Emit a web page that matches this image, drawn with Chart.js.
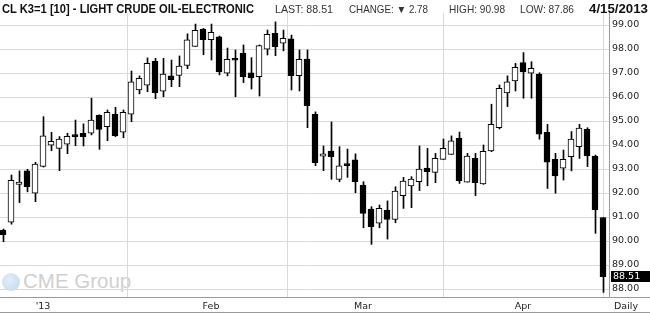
<!DOCTYPE html>
<html><head><meta charset="utf-8">
<script src="https://cdn.jsdelivr.net/npm/chart.js@4.4.1/dist/chart.umd.min.js"></script>
<style>
html,body{margin:0;padding:0;background:#fff;}
#wrap{position:relative;width:650px;height:314px;overflow:hidden;background:#fff;}
canvas{position:absolute;left:0;top:0;z-index:2;}
.h{position:absolute;white-space:nowrap;transform-origin:0 0;line-height:1;z-index:3;font-family:"Liberation Sans",Arial,sans-serif;}
.big{font-weight:bold;font-size:13.5px;color:#111;top:2px;}
.sm{font-size:10.5px;color:#333;top:4px;}
#wm{position:absolute;left:2px;top:271px;z-index:1;}
#globe{position:absolute;left:0;top:2px;width:18px;height:18px;border-radius:50%;background:radial-gradient(circle at 40% 40%,#e2eefa,#c0d6ee);}
#wmt{position:absolute;left:21px;top:0;font-family:"Liberation Sans",Arial,sans-serif;font-size:20.5px;line-height:1;color:#d0d0d0;white-space:nowrap;}
#daily{position:absolute;left:614px;top:301px;font-family:"DejaVu Sans",sans-serif;font-size:9.5px;line-height:1;color:#222;z-index:3;}
</style></head><body>
<div id="wrap">
<div id="wm"><div id="globe"></div><div id="wmt">CME Group</div></div>
<canvas id="c" width="650" height="314"></canvas>
<div class="h big" data-l="2" data-w="252">CL K3=1 [10] - LIGHT CRUDE OIL-ELECTRONIC</div>
<div class="h sm" data-l="275" data-w="58">LAST: 88.51</div>
<div class="h sm" data-l="349" data-w="79">CHANGE: ▼ 2.78</div>
<div class="h sm" data-l="449" data-w="56">HIGH: 90.98</div>
<div class="h sm" data-l="520" data-w="54">LOW: 87.86</div>
<div class="h big" data-l="589" data-w="59">4/15/2013</div>
<div id="daily">Daily</div>
</div>
<script>
const dates = ["12/24","12/26","12/27","12/28","12/31","1/2","1/3","1/4","1/7","1/8","1/9","1/10","1/11","1/14","1/15","1/16","1/17","1/18","1/22","1/23","1/24","1/25","1/28","1/29","1/30","1/31","2/1","2/4","2/5","2/6","2/7","2/8","2/11","2/12","2/13","2/14","2/15","2/19","2/20","2/21","2/22","2/25","2/26","2/27","2/28","3/1","3/4","3/5","3/6","3/7","3/8","3/11","3/12","3/13","3/14","3/15","3/18","3/19","3/20","3/21","3/22","3/25","3/26","3/27","3/28","4/1","4/2","4/3","4/4","4/5","4/8","4/9","4/10","4/11","4/12","4/15"];
const opens  = [90.46,90.78,92.36,92.92,91.99,93.11,93.99,93.86,94.03,94.42,94.49,94.49,95.24,94.76,95.28,94.53,95.28,96.29,96.49,97.49,96.24,96.88,96.90,97.32,98.11,98.83,98.39,98.51,96.99,97.57,97.83,97.01,96.85,97.99,98.65,98.24,98.42,96.89,97.58,95.28,93.53,93.75,92.57,93.21,93.38,92.33,91.33,90.74,91.29,90.90,91.89,92.30,92.47,93.04,92.86,93.40,93.61,94.29,92.45,93.44,92.38,93.75,94.72,96.17,96.67,97.43,96.99,96.96,94.53,93.40,93.03,93.51,93.93,94.65,93.54,90.98];
const highs  = [90.50,92.75,92.92,92.99,93.28,95.18,94.53,94.35,94.49,95.04,94.88,95.95,95.26,95.46,95.57,95.46,97.08,96.88,97.63,97.61,97.61,97.54,97.71,98.63,99.04,98.86,99.04,98.54,98.04,97.96,98.17,97.64,98.17,98.79,99.13,98.79,98.58,97.96,97.96,95.38,93.96,94.96,93.93,93.83,93.63,92.47,91.43,91.50,91.67,92.26,92.65,92.68,93.96,93.86,93.65,94.25,94.38,94.54,93.65,93.65,94.00,95.70,96.50,96.88,97.40,97.85,97.47,97.01,94.86,93.65,93.79,94.56,94.86,94.72,93.58,90.98];
const lows   = [89.97,90.70,91.60,92.05,91.64,93.08,93.76,92.93,93.64,93.97,93.96,94.42,93.82,94.18,94.35,94.30,94.97,96.13,96.22,95.93,96.01,96.43,96.43,97.18,98.11,97.76,97.54,96.92,96.88,96.01,96.60,96.33,96.04,97.75,97.72,97.92,96.29,96.25,94.72,93.14,92.93,92.57,92.47,92.65,92.01,90.55,89.86,90.55,90.08,90.76,91.36,91.39,92.10,92.30,92.43,93.40,93.61,92.40,92.45,91.89,92.36,93.72,94.67,95.60,96.25,95.95,95.95,94.24,92.19,91.99,92.54,92.92,93.44,93.10,90.32,87.86];
const closes = [90.26,92.53,92.45,92.26,93.20,94.38,94.15,94.25,94.36,94.35,94.35,95.04,94.65,95.36,94.39,95.36,96.63,96.78,97.40,96.18,96.96,96.72,97.29,98.38,98.78,98.39,98.69,97.05,97.57,97.53,96.85,96.80,98.14,98.61,98.10,98.44,96.89,97.57,95.64,93.26,93.63,93.51,93.13,93.14,92.47,91.15,90.60,91.36,90.90,92.08,92.50,92.58,93.00,92.89,93.44,93.86,94.17,92.51,93.54,92.43,93.74,94.86,96.36,96.63,97.24,97.05,97.19,94.45,93.28,92.71,93.40,94.25,94.70,93.54,91.29,88.51];
const monthTickIdx = [5,26,45,65];
const monthTickLabels = ["'13","Feb","Mar","Apr"];
const yTicks = [88,89,90,91,92,93,94,95,96,97,98,99];
const lastPrice = 88.51;

const XMIN = -0.375, XMAX = 75.75, YMIN = 87 + 2/3, YMAX = 99.5;

const bodyData = dates.map((d,i)=>({x:i, y:[opens[i], closes[i]]}));
const wickData = dates.map((d,i)=>({x:i, y:[lows[i], highs[i]]}));

const frame = {
  id:'frame',
  afterDraw(chart){
    const ctx = chart.ctx, ca = chart.chartArea, ys = chart.scales.y;
    ctx.save();
    ctx.strokeStyle = '#9a9a9a'; ctx.lineWidth = 1;
    ctx.beginPath();
    ctx.moveTo(0, Math.round(ca.bottom)+0.5); ctx.lineTo(650, Math.round(ca.bottom)+0.5);
    ctx.moveTo(0, 312.5); ctx.lineTo(650, 312.5);
    ctx.stroke();
    const y = ys.getPixelForValue(lastPrice);
    ctx.fillStyle = '#000';
    ctx.fillRect(611, Math.round(y) - 6, 39, 11);
    ctx.fillStyle = '#fff';
    ctx.font = '9.5px "DejaVu Sans", sans-serif';
    ctx.textBaseline = 'middle'; ctx.textAlign = 'left';
    ctx.fillText(lastPrice.toFixed(2), 613, Math.round(y));
    ctx.restore();
  }
};

new Chart(document.getElementById('c'), {
  type:'bar',
  data:{ datasets:[
    { label:'body', data: bodyData, xAxisID:'x', yAxisID:'y', grouped:false, order:0,
      barThickness:6, borderWidth:1, borderSkipped:false, borderColor:'#000', minBarLength:2,
      backgroundColor: c => (closes[c.dataIndex] >= opens[c.dataIndex]) ? '#ffffff' : '#000000' },
    { label:'wick', data: wickData, xAxisID:'xw', yAxisID:'y', grouped:false, order:1,
      barThickness:1, borderWidth:0, backgroundColor:'#000' }
  ]},
  options:{
    responsive:false, animation:false, devicePixelRatio:1,
    layout:{ padding:{ top:13, left:0, right:0, bottom:0 } },
    plugins:{ legend:{display:false}, tooltip:{enabled:false}, title:{display:false} },
    scales:{
      x:{ type:'linear', position:'bottom', min:XMIN, max:XMAX, offset:false,
        afterBuildTicks: s => { s.ticks = monthTickIdx.map(v=>({value:v})); },
        afterFit: s => { s.height = 17; s.paddingLeft = 0; s.paddingRight = 0; },
        grid:{ color:'#dadada', drawTicks:false, lineWidth:1 },
        border:{ display:false },
        ticks:{ autoSkip:false, maxRotation:0, padding:4, color:'#222',
          font:{ family:'"DejaVu Sans", sans-serif', size:9.5 },
          callback: v => { const k = monthTickIdx.indexOf(v); return k >= 0 ? monthTickLabels[k] : ''; } }
      },
      xw:{ type:'linear', display:false, min:XMIN - 0.0625, max:XMAX - 0.0625, offset:false },
      y:{ type:'linear', position:'right', min:YMIN, max:YMAX,
        afterBuildTicks: s => { s.ticks = yTicks.map(v=>({value:v})); },
        afterFit: s => { s.width = 41; },
        grid:{ color:'#dadada', drawTicks:false, lineWidth:1 },
        border:{ display:true, color:'#9a9a9a' },
        ticks:{ padding:3, color:'#222', font:{ family:'"DejaVu Sans", sans-serif', size:9.5 },
          callback: v => v.toFixed(2) }
      }
    }
  },
  plugins:[frame]
});

function fitHeader(){
  document.querySelectorAll('.h').forEach(el=>{
    el.style.left = el.dataset.l + 'px';
    el.style.transform = 'none';
    const w = el.getBoundingClientRect().width;
    el.style.transform = 'scaleX(' + (parseFloat(el.dataset.w)/w) + ')';
  });
}
fitHeader();
if (document.fonts && document.fonts.ready) document.fonts.ready.then(fitHeader);
</script>
</body></html>
